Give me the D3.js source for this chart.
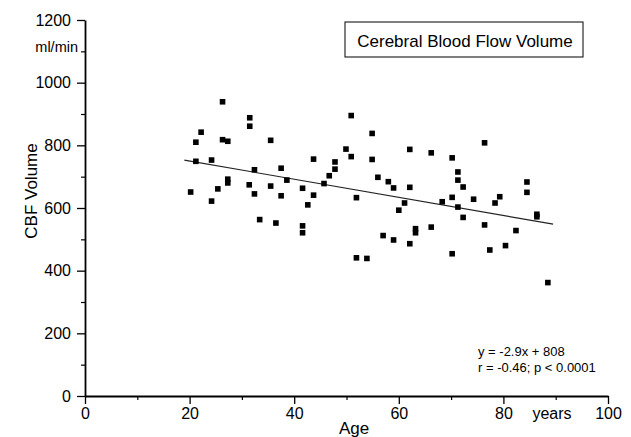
<!DOCTYPE html>
<html>
<head>
<meta charset="utf-8">
<script src="https://cdn.jsdelivr.net/npm/d3@7"></script>
<style>
  html, body { margin: 0; padding: 0; background: #fff; }
  svg { display: block; font-family: "Liberation Sans", Arial, sans-serif; }
</style>
</head>
<body>
<svg id="chart" width="631" height="437"></svg>
<script>
// ---- data ----
const ages = [26.3, 31.5, 31.5, 22.2, 21.2, 26.3, 27.3, 35.5, 43.7, 21.2,
  24.2, 32.4, 37.5, 38.6, 27.3, 27.3, 31.4, 35.5, 20.2, 25.4,
  41.6, 32.4, 37.5, 43.7, 24.2, 42.6, 33.4, 36.5, 41.6, 41.6,
  50.9, 54.9, 49.9, 62.1, 66.2, 50.9, 54.9, 47.8, 47.8, 46.7,
  56.0, 58.0, 59.0, 62.1, 45.7, 51.9, 61.1, 60.0, 68.3, 63.2,
  63.2, 66.2, 57.0, 59.0, 62.1, 51.9, 53.9,
  76.4, 70.2, 71.3, 71.3, 72.3, 84.5, 84.5, 70.2, 71.3, 74.3,
  79.3, 78.4, 86.4, 86.4, 72.3, 76.4, 82.4, 80.4, 77.4, 70.2, 88.5];
const cbfVolume = [939, 888, 861, 842, 810, 818, 813, 816, 756, 749,
  753, 722, 727, 689, 692, 680, 674, 670, 651, 661,
  663, 645, 639, 641, 622, 610, 563, 552, 543, 521,
  895, 838, 788, 787, 776, 764, 755, 747, 724, 703,
  698, 684, 664, 666, 678, 633, 616, 593, 620, 534,
  521, 539, 512, 498, 486, 441, 439,
  808, 760, 715, 689, 667, 683, 650, 634, 603, 628,
  636, 616, 580, 572, 570, 546, 528, 480, 466, 454, 362];
const fitSlope = -2.9;
const fitIntercept = 808;
const fitRange = [19, 89.5];
const xMajorTicks = [0, 20, 40, 60, 80, 100];
const xMinorTicks = [10, 30, 50, 70, 90];
const yMajorTicks = [0, 200, 400, 600, 800, 1000, 1200];
const yMinorTicks = [100, 300, 500, 700, 900, 1100];
const titleText = "Cerebral Blood Flow Volume";
const eqLines = ["y = -2.9x + 808", "r = -0.46; p < 0.0001"];

// ---- layout ----
const svg = d3.select("#chart");
const x = d3.scaleLinear().domain([0, 100]).range([85, 608]);
const y = d3.scaleLinear().domain([0, 1200]).range([396, 20]);
const fontFam = "'Liberation Sans', Arial, sans-serif";

// minor ticks
svg.append("g").attr("transform", `translate(0,${y(0)})`)
  .call(d3.axisBottom(x).tickValues(xMinorTicks).tickSize(4).tickFormat(""))
  .call(g => g.select(".domain").remove())
  .call(g => g.selectAll("line").attr("stroke", "#000").attr("stroke-width", 1.2));
svg.append("g").attr("transform", `translate(${x(0)},0)`)
  .call(d3.axisLeft(y).tickValues(yMinorTicks).tickSize(4).tickFormat(""))
  .call(g => g.select(".domain").remove())
  .call(g => g.selectAll("line").attr("stroke", "#000").attr("stroke-width", 1.2));

// major axes
const xAxis = svg.append("g").attr("transform", `translate(0,${y(0)})`)
  .call(d3.axisBottom(x).tickValues(xMajorTicks).tickFormat(d3.format("d"))
    .tickSize(8).tickSizeOuter(0).tickPadding(4));
const yAxis = svg.append("g").attr("transform", `translate(${x(0)},0)`)
  .call(d3.axisLeft(y).tickValues(yMajorTicks).tickFormat(d3.format("d"))
    .tickSize(8).tickSizeOuter(0).tickPadding(6));
[xAxis, yAxis].forEach(g => {
  g.select(".domain").attr("stroke", "#000").attr("stroke-width", 1.8);
  g.selectAll(".tick line").attr("stroke", "#000").attr("stroke-width", 1.3);
  g.selectAll(".tick text").attr("fill", "#000").style("font-size", "16px")
    .style("font-family", fontFam);
});

// regression line
svg.append("line")
  .attr("x1", x(fitRange[0])).attr("y1", y(fitSlope * fitRange[0] + fitIntercept))
  .attr("x2", x(fitRange[1])).attr("y2", y(fitSlope * fitRange[1] + fitIntercept))
  .attr("stroke", "#222").attr("stroke-width", 1.1);

// points
const sz = 5.6;
svg.append("g").selectAll("rect")
  .data(ages.map((a, i) => [a, cbfVolume[i]]))
  .join("rect")
  .attr("x", d => x(d[0]) - sz / 2)
  .attr("y", d => y(d[1]) - sz / 2)
  .attr("width", sz).attr("height", sz)
  .attr("fill", "#000");

// axis titles
svg.append("text").attr("x", 354).attr("y", 434).attr("text-anchor", "middle")
  .style("font-size", "17px").text("Age");
svg.append("text").attr("transform", "translate(37,191) rotate(-90)")
  .attr("text-anchor", "middle").style("font-size", "17px").text("CBF Volume");
svg.append("text").attr("x", 78).attr("y", 52).attr("text-anchor", "end")
  .style("font-size", "14.5px").text("ml/min");
svg.append("text").attr("x", 552).attr("y", 419).attr("text-anchor", "middle")
  .style("font-size", "16px").text("years");

// title box
svg.append("rect").attr("x", 345).attr("y", 22).attr("width", 238).attr("height", 35)
  .attr("fill", "#fff").attr("stroke", "#000").attr("stroke-width", 1);
svg.append("text").attr("x", 465).attr("y", 47).attr("text-anchor", "middle")
  .style("font-size", "17px").text(titleText);

// equation text
svg.selectAll(".eq").data(eqLines).join("text").attr("class", "eq")
  .attr("x", 478).attr("y", (d, i) => 356 + i * 16)
  .style("font-size", "13px").text(d => d);
</script>
</body>
</html>
